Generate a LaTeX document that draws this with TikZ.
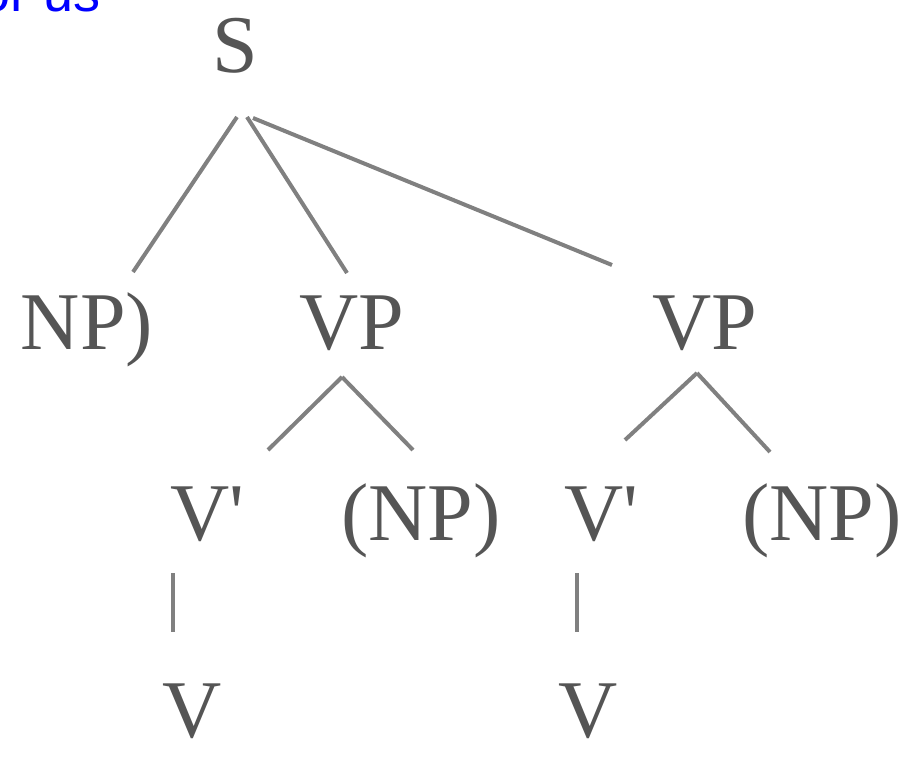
\documentclass[tikz,border=0pt]{standalone}
\usepackage{fontspec}
\setmainfont{Liberation Serif}
\newfontfamily\captionfont{Liberation Sans}

\begin{document}
\begin{tikzpicture}[x=1pt, y=1pt,
    label/.style={anchor=base, inner sep=0pt, text=labelgray,
      font=\fontsize{82}{90}\selectfont},
    branch/.style={draw=branchgray, line width=4pt}]

  % Colors: grey labels and branches, blue caption
  \definecolor{labelgray}{RGB}{85,85,85}
  \definecolor{branchgray}{RGB}{128,128,128}
  \definecolor{captionblue}{RGB}{0,0,255}

  % page frame (914 x 768)
  \useasboundingbox (0,0) rectangle (914,-768);
  \clip (0,0) rectangle (914,-768);

  % --- caption cut off at the top ---
  \node[anchor=base west, inner sep=0pt, text=captionblue,
    font=\captionfont\fontsize{54}{60}\selectfont] (caption) at (-20,-12) {or us};

  % --- labels ---
  \node[label] (s)   at (235,-73)  {S};
  \node[label] (np)  at (87,-349)  {NP)};
  \node[label] (vpa) at (352,-349) {VP};
  \node[label] (vpb) at (705,-349) {VP};

  \node[label] (vba) at (207,-540) {V\textquotesingle};
  \node[label] (npa) at (421,-540) {(NP)};
  \node[label] (vbb) at (601,-540) {V\textquotesingle};
  \node[label] (npb) at (822,-540) {(NP)};

  \node[label] (va)  at (192,-737) {V};
  \node[label] (vb)  at (588,-737) {V};

  % free end of the long branch from S
  \coordinate (sfree) at (612,-265);

  % --- branches from S ---
  \draw[branch] ([shift={(2,-44)}]s.base)  -- ([shift={(46,77)}]np.base);
  \draw[branch] ([shift={(12,-44)}]s.base) -- ([shift={(-5,76)}]vpa.base);
  \draw[branch] ([shift={(18,-45)}]s.base) -- (sfree);

  % --- left VP ---
  \draw[branch] ([shift={(-10,-28)}]vpa.base) -- ([shift={(61,90)}]vba.base);
  \draw[branch] ([shift={(-10,-28)}]vpa.base) -- ([shift={(-8,90)}]npa.base);
  \draw[branch] ([shift={(-34,-33)}]vba.base) -- ([shift={(-19,105)}]va.base);

  % --- right VP ---
  \draw[branch] ([shift={(-8,-24)}]vpb.base) -- ([shift={(24,100)}]vbb.base);
  \draw[branch] ([shift={(-8,-24)}]vpb.base) -- ([shift={(-52,88)}]npb.base);
  \draw[branch] ([shift={(-24,-33)}]vbb.base) -- ([shift={(-11,105)}]vb.base);

\end{tikzpicture}
\end{document}
